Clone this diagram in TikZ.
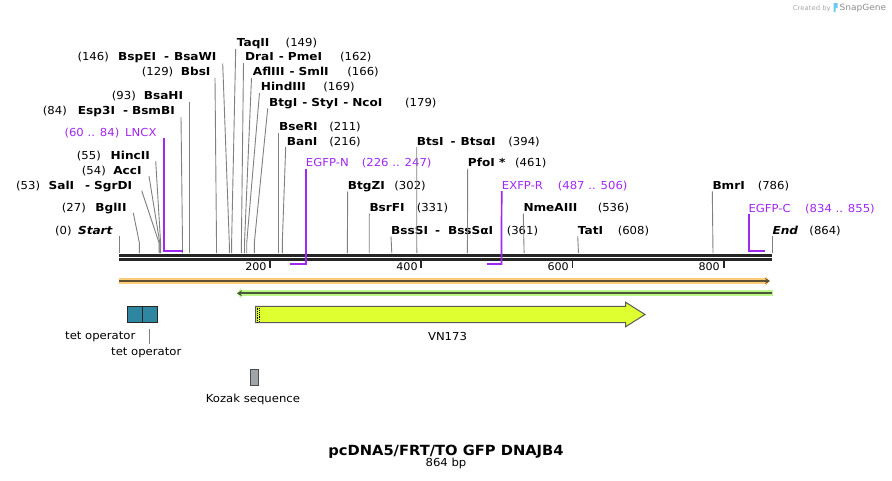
\documentclass[tikz,border=0pt]{standalone}
\usepackage{fontspec}
\setmainfont[FakeStretch=1.06]{DejaVu Sans}
\newfontfamily\enzfont[FakeStretch=1.1]{DejaVu Sans Bold}
\newfontfamily\endsfont[FakeStretch=1.1]{DejaVu Sans Bold Oblique}
\newfontfamily\titlefont[FakeStretch=1.05]{DejaVu Sans Bold}
\usetikzlibrary{arrows.meta}
\definecolor{primer}{RGB}{160,40,240}
\definecolor{cutgray}{RGB}{128,128,128}
\definecolor{bbone}{RGB}{38,38,38}
\definecolor{orhalo}{RGB}{253,204,122}
\definecolor{ordark}{RGB}{95,80,52}
\definecolor{grhalo}{RGB}{188,245,136}
\definecolor{grdark}{RGB}{72,88,56}
\definecolor{tetfill}{RGB}{46,134,160}
\definecolor{vnfill}{RGB}{224,255,48}
\definecolor{kozfill}{RGB}{160,165,170}
\definecolor{snapblue}{RGB}{110,200,240}

\begin{document}
\begin{tikzpicture}[x=1pt,y=-1pt,
    enz/.style={font=\fontsize{11}{13}\enzfont, inner sep=0pt},
    ends/.style={font=\fontsize{11}{13}\endsfont, inner sep=0pt},
    num/.style={font=\fontsize{11}{13}\selectfont, inner sep=0pt},
    prm/.style={font=\fontsize{11}{13}\selectfont, text=primer, inner sep=0pt},
    txt/.style={font=\fontsize{11}{13}\selectfont, inner sep=0pt},
    cut/.style={draw=cutgray, line width=0.9pt},
    prmline/.style={draw=primer, line width=1.7pt},
    ruler/.style={draw=bbone, line width=2.8pt},
    tick/.style={draw=bbone, line width=1.8pt}]
\useasboundingbox (0,0) rectangle (892,480);

% backbone and scale
\coordinate (b0) at (119,255.3);
\coordinate (b1) at (772,255.3);
\draw[ruler] (b0) -- (b1);
\draw[ruler] ([yshift=-4.2pt]b0) -- ([yshift=-4.2pt]b1);
\coordinate (t200) at (270.2,261);
\coordinate (t400) at (421.3,261);
\coordinate (t600) at (572.5,261);
\coordinate (t800) at (723.6,261);
\draw[tick] (t200) -- ++(0,6.5);
\draw[tick] (t400) -- ++(0,6.5);
\draw[tick] (t600) -- ++(0,6.5);
\draw[tick] (t800) -- ++(0,6.5);
\node[num, anchor=base east, font=\fontsize{10.5}{12}\selectfont] (l200) at (266.7,270.7) {200};
\node[num, anchor=base east, font=\fontsize{10.5}{12}\selectfont] (l400) at (417.8,270.7) {400};
\node[num, anchor=base east, font=\fontsize{10.5}{12}\selectfont] (l600) at (569,270.7) {600};
\node[num, anchor=base east, font=\fontsize{10.5}{12}\selectfont] (l800) at (720,270.7) {800};

% sites on the backbone
\coordinate (kink) at (0,243);
\coordinate (s0) at (119,253);
\coordinate (s27) at (139.4,253);
\coordinate (s53) at (159.1,253);
\coordinate (s54) at (159.8,253);
\coordinate (s55) at (160.6,253);
\coordinate (s93) at (189.3,253);
\coordinate (s84) at (182.5,253);
\coordinate (s129) at (216.5,253);
\coordinate (s146) at (229.3,253);
\coordinate (s149) at (231.6,253);
\coordinate (s162) at (241.4,253);
\coordinate (s166) at (244.5,253);
\coordinate (s169) at (246.7,253);
\coordinate (s179) at (254.3,253);
\coordinate (s211) at (278.5,253);
\coordinate (s216) at (282.3,253);
\coordinate (s302) at (347.3,253);
\coordinate (s331) at (369.2,253);
\coordinate (s361) at (391.8,253);
\coordinate (s394) at (416.8,253);
\coordinate (s461) at (467.4,253);
\coordinate (s536) at (524.1,253);
\coordinate (s608) at (578.5,253);
\coordinate (s786) at (713,253);
\coordinate (s864) at (772,253);

% left side labels
\node[num, anchor=base west] (n146) at (77.3,60) {(146)};
\node[enz, anchor=base east] (bspEI) at (216.7,60) {BspEI\hspace{8pt}-\hspace{5pt}BsaWI};
\node[num, anchor=base west] (n129) at (141.7,75.7) {(129)};
\node[enz, anchor=base east] (bbsI) at (210.7,75.7) {BbsI};
\node[num, anchor=base west] (n93) at (111.7,99) {(93)};
\node[enz, anchor=base east] (bsaHI) at (183.3,99) {BsaHI};
\node[num, anchor=base west] (n84) at (42.7,114) {(84)};
\node[enz, anchor=base east] (esp3I) at (175,114) {Esp3I\hspace{8pt}-\hspace{4pt}BsmBI};
\node[prm, anchor=base west] (nLNCX) at (64.3,136) {(60 .. 84)};
\node[prm, anchor=base east] (lncx) at (156.7,136) {LNCX};
\node[num, anchor=base west] (n55) at (76.7,159) {(55)};
\node[enz, anchor=base east] (hincII) at (150,159) {HincII};
\node[num, anchor=base west] (n54) at (81.7,174.3) {(54)};
\node[enz, anchor=base east] (accI) at (141.7,174.3) {AccI};
\node[num, anchor=base west] (n53) at (16,189) {(53)};
\node[enz, anchor=base east] (salI) at (132.3,189) {SalI\hspace{11pt}-\hspace{4pt}SgrDI};
\node[num, anchor=base west] (n27) at (61.7,211.5) {(27)};
\node[enz, anchor=base east] (bglII) at (126.7,211.5) {BglII};
\node[num, anchor=base west] (n0) at (55,234) {(0)};
\node[ends, anchor=base east] (start) at (112.7,234) {Start};

\draw[cut] ([xshift=6pt,yshift=-3.5pt]bspEI.base east) -- (s146 |- kink) -- (s146);
\draw[cut] ([xshift=4.3pt,yshift=-2.3pt]bbsI.base east) -- (s129 |- kink) -- (s129);
\draw[cut] ([xshift=6pt,yshift=-2.5pt]bsaHI.base east) -- (s93);
\draw[cut] ([xshift=6pt,yshift=-3pt]esp3I.base east) -- (s84 |- kink) -- (s84);
\draw[cut] ([xshift=5.7pt,yshift=-2pt]hincII.base east) -- (s55 |- kink) -- (s55);
\draw[cut] ([xshift=7.3pt,yshift=-1.7pt]accI.base east) -- (s54 |- kink) -- (s54);
\draw[cut] ([xshift=9.4pt,yshift=-1.7pt]salI.base east) -- (s53 |- kink) -- (s53);
\draw[cut] ([xshift=6.6pt,yshift=-1.5pt]bglII.base east) -- (s27 |- kink) -- (s27);
\draw[cut] ([xshift=6.3pt,yshift=-2pt]start.base east) -- (s0);
\draw[prmline] ([xshift=7.6pt,yshift=-1.5pt]lncx.base east) -- (164.3,251) -- (182.5,251);

% right side labels
\node[enz, anchor=base west] (taqII) at (236.7,46.7) {TaqII};
\node[num, anchor=base east] (n149) at (317.3,46.7) {(149)};
\node[enz, anchor=base west] (draI) at (245,60.7) {DraI\hspace{5pt}-\hspace{4pt}PmeI};
\node[num, anchor=base east] (n162) at (371.7,60.7) {(162)};
\node[enz, anchor=base west] (aflIII) at (252.7,75.7) {AflIII\hspace{5pt}-\hspace{4pt}SmlI};
\node[num, anchor=base east] (n166) at (379,75.7) {(166)};
\node[enz, anchor=base west] (hindIII) at (260.7,90.7) {HindIII};
\node[num, anchor=base east] (n169) at (355,90.7) {(169)};
\node[enz, anchor=base west] (btgI) at (269,106) {BtgI\hspace{5pt}-\hspace{4pt}StyI\hspace{5pt}-\hspace{4pt}NcoI};
\node[num, anchor=base east] (n179) at (436.7,106) {(179)};
\node[enz, anchor=base west] (bseRI) at (279,130) {BseRI};
\node[num, anchor=base east] (n211) at (361,130) {(211)};
\node[enz, anchor=base west] (banI) at (286.7,145) {BanI};
\node[num, anchor=base east] (n216) at (361,145) {(216)};
\node[enz, anchor=base west] (btsI) at (416.7,145) {BtsI\hspace{7pt}-\hspace{5pt}Btsα{}I};
\node[num, anchor=base east] (n394) at (540,145) {(394)};
\node[prm, anchor=base west] (egfpN) at (305.7,166.7) {EGFP-N};
\node[prm, anchor=base east] (nEGFPN) at (431.7,166.7) {(226 .. 247)};
\node[enz, anchor=base west] (pfoI) at (467.7,166.7) {PfoI *};
\node[num, anchor=base east] (n461) at (546.7,166.7) {(461)};
\node[enz, anchor=base west] (btgZI) at (347.7,189.3) {BtgZI};
\node[num, anchor=base east] (n302) at (426,189.3) {(302)};
\node[prm, anchor=base west] (exfpR) at (501.7,189.3) {EXFP-R};
\node[prm, anchor=base east] (nEXFPR) at (627.7,189.3) {(487 .. 506)};
\node[enz, anchor=base west] (bmrI) at (712.3,189.3) {BmrI};
\node[num, anchor=base east] (n786) at (789.3,189.3) {(786)};
\node[enz, anchor=base west] (bsrFI) at (369.3,211.7) {BsrFI};
\node[num, anchor=base east] (n331) at (448.3,211.7) {(331)};
\node[enz, anchor=base west] (nmeAIII) at (523.3,211.7) {NmeAIII};
\node[num, anchor=base east] (n536) at (629.3,211.7) {(536)};
\node[prm, anchor=base west] (egfpC) at (748.3,212) {EGFP-C};
\node[prm, anchor=base east] (nEGFPC) at (875,212) {(834 .. 855)};
\node[enz, anchor=base west] (bssSI) at (391,234.3) {BssSI\hspace{7pt}-\hspace{8pt}BssSα{}I};
\node[num, anchor=base east] (n361) at (538.3,234.3) {(361)};
\node[enz, anchor=base west] (tatI) at (577.7,234.3) {TatI};
\node[num, anchor=base east] (n608) at (649.3,234.3) {(608)};
\node[ends, anchor=base west] (end) at (772.3,234.3) {End};
\node[num, anchor=base east] (n864) at (841,234.3) {(864)};

\draw[cut] ([xshift=-1pt,yshift=-2.3pt]taqII.base west) -- (s149 |- kink) -- (s149);
\draw[cut] ([xshift=-1.5pt,yshift=-2.3pt]draI.base west) -- (s162 |- kink) -- (s162);
\draw[cut] ([xshift=-1.2pt,yshift=-2.3pt]aflIII.base west) -- (s166 |- kink) -- (s166);
\draw[cut] ([xshift=-1.2pt,yshift=-2.3pt]hindIII.base west) -- (s169 |- kink) -- (s169);
\draw[cut] ([xshift=-1.3pt,yshift=-2.5pt]btgI.base west) -- (s179 |- kink) -- (s179);
\draw[cut] ([xshift=-0.5pt,yshift=-2.5pt]bseRI.base west) -- (s211);
\draw[cut] ([xshift=-1pt,yshift=-2pt]banI.base west) -- (s216 |- kink) -- (s216);
\draw[cut] ([yshift=-2pt]btsI.base west) -- (s394);
\draw[cut] ([yshift=-2pt]pfoI.base west) -- (s461);
\draw[cut] ([yshift=-2pt]btgZI.base west) -- (s302);
\draw[cut] ([yshift=-2pt]bmrI.base west) -- (s786);
\draw[cut] ([yshift=-2pt]bsrFI.base west) -- (s331);
\draw[cut] ([yshift=-2pt]nmeAIII.base west) -- (s536);
\draw[cut] ([yshift=-2pt]bssSI.base west) -- (s361);
\draw[cut] ([yshift=-2pt]tatI.base west) -- (s608);
\draw[cut] ([xshift=-0.3pt,yshift=-2pt]end.base west) -- (s864);
\draw[prmline] ([yshift=-1.8pt]egfpN.base west) -- (305.7,264) -- (289.8,264);
\draw[prmline] ([yshift=-1.8pt]exfpR.base west) -- (501.4,264) -- (487.1,264);
\draw[prmline] ([xshift=0.5pt,yshift=-1.5pt]egfpC.base west) -- (748.8,251) -- (765,251);

% features
\coordinate (o0) at (119,281);
\coordinate (o1) at (772.5,281);
\draw[orhalo, line width=6pt, -{Triangle[length=4pt,width=10pt]}] (o0) -- ([xshift=-3pt]o1);
\draw[ordark, line width=2pt, -{Stealth[length=5pt,width=6pt]}] (o0) -- ([xshift=-2.5pt]o1);
\coordinate (g0) at (772.7,293.3);
\coordinate (g1) at (234,293.3);
\draw[grhalo, line width=6pt, -{Triangle[length=4pt,width=10pt]}] (g0) -- ([xshift=3pt]g1);
\draw[grdark, line width=2pt, -{Stealth[length=5pt,width=6pt]}] ([xshift=-1pt]g0) -- ([xshift=3pt]g1);

\draw[draw=bbone, fill=tetfill, line width=1pt] (127.5,306.3) rectangle (142,322.5);
\draw[draw=bbone, fill=tetfill, line width=1pt] (142,306.3) rectangle (157.5,322.5);
\node[txt, anchor=base west] (tet1) at (65,339.3) {tet operator};
\node[txt, anchor=base west] (tet2) at (111,355) {tet operator};
\draw[cutgray, line width=0.8pt] (149.3,329) -- (149.3,344);

\draw[draw=black!65, fill=vnfill, line width=1pt] (255.5,306.3) -- (625.7,306.3) -- (625.7,302.3)
  -- (645,314.5) -- (625.7,326.7) -- (625.7,322.7) -- (255.5,322.7) -- cycle;
\draw[black, line width=0.8pt, dash pattern=on 0.9pt off 0.9pt] (257.3,307.5) -- (257.3,322);
\draw[black, line width=0.8pt, dash pattern=on 0.9pt off 0.9pt] (259.2,308.4) -- (259.2,322);
\node[txt, anchor=base] (vn173) at (447.5,340) {VN173};

\draw[draw=black!70, fill=kozfill, line width=0.8pt] (250.3,369.5) rectangle (258.5,385.5);
\node[txt, anchor=base west] (kozak) at (205.7,402.3) {Kozak sequence};

% title
\node[font=\fontsize{14}{16}\titlefont, anchor=base, inner sep=0pt] (title) at (446,455) {pcDNA5/FRT/TO GFP DNAJB4};
\node[txt, anchor=base] (size) at (446,466.7) {864 bp};

% credit
\node[font=\fontsize{6.5}{8}\selectfont, text=black!35, anchor=base east, inner sep=0pt] (made) at (831,10) {Created by};
\fill[snapblue] (833.5,3) rectangle (837.5,8) (833.5,8) rectangle (835.5,12);
\node[font=\fontsize{8.5}{10}\selectfont, text=black!45, anchor=base west, inner sep=0pt] (snap) at (839.5,10.5) {SnapGene};
\end{tikzpicture}
\end{document}
